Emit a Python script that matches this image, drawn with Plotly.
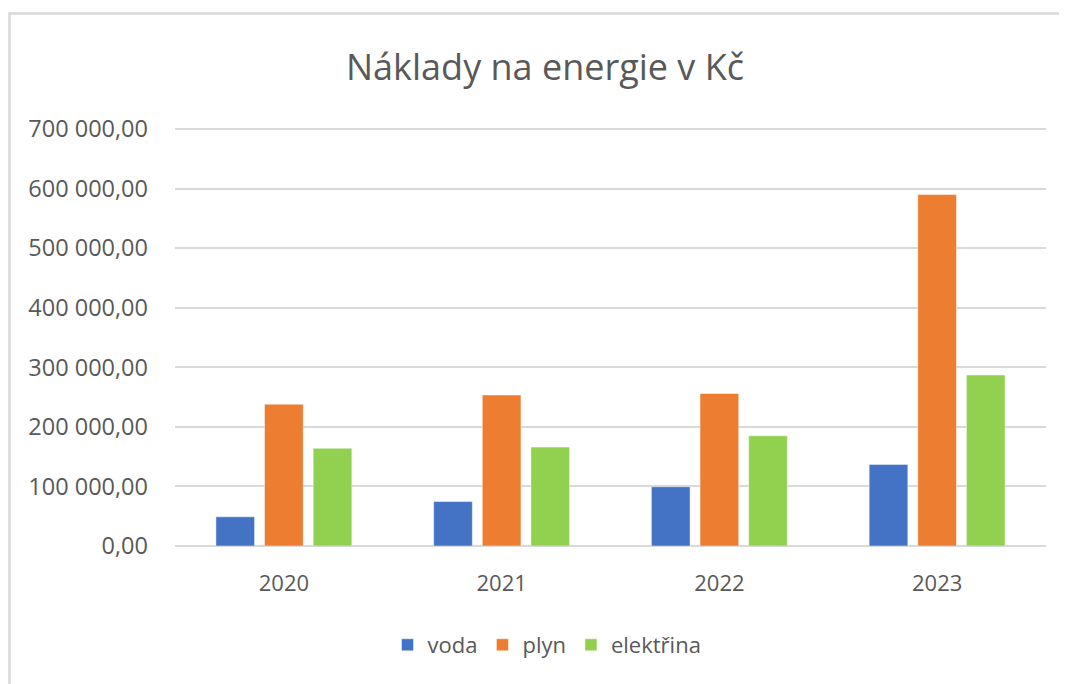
import plotly.graph_objects as go

years = ["2020", "2021", "2022", "2023"]
voda = [49000, 74600, 99500, 137000]
plyn = [238000, 253500, 256000, 590000]
elektrina = [164000, 166000, 185000, 287000]

series = [("voda", voda, "#4472C4"), ("plyn", plyn, "#ED7D31"), ("elektřina", elektrina, "#92D050")]

fig = go.Figure()
for name, vals, col in series:
    fig.add_trace(go.Bar(x=years, y=vals, name=name, marker=dict(color=col, line=dict(color="rgba(255,255,255,0.45)", width=1))))

# page body has an 8px margin; compensate
OFF = 8
EXTRA = 4  # headroom so the top gridline is drawn
W, H = 1067 - OFF, 684 - OFF
L, T = 175 - OFF, 129 - OFF - EXTRA
PW, PH = 871, 417 + EXTRA
R, B = W - L - PW, H - T - PH

def py(y):  # page pixel y -> paper
    return ((H - B) - (y - OFF)) / PH

def px(x):
    return (x - OFF - L) / PW

font_col = "#595959"
fig.update_layout(
    width=W, height=H,
    margin=dict(l=L, r=R, t=T, b=B, autoexpand=False),
    paper_bgcolor="white", plot_bgcolor="white",
    separators=", ",
    font=dict(family="Open Sans", color=font_col, size=22),
    title=dict(text="Náklady na energie v Kč", x=(545 - OFF) / W, xref="container", xanchor="center",
               y=1 - (67 - OFF) / H, yref="container", yanchor="middle",
               font=dict(size=36, color=font_col, family="Open Sans")),
    bargap=0.33, bargroupgap=0.205,
    legend=dict(orientation="h", x=px(547), xref="paper", xanchor="center",
                y=py(645), yref="paper", yanchor="middle", font=dict(size=22, color=font_col),
                traceorder="normal"),
    showlegend=True,
)
fig.update_yaxes(range=[0, 700000 * PH / 417], tickvals=[0, 100000, 200000, 300000, 400000, 500000, 600000, 700000],
                 tickformat=",.2f",
                 showgrid=True, gridcolor="#d9d9d9", gridwidth=2,
                 zeroline=True, zerolinecolor="#d9d9d9", zerolinewidth=2,
                 showline=False, ticks="", ticklabelstandoff=26,
                 tickfont=dict(size=23.5, color=font_col))
fig.update_xaxes(showline=False, ticks="", ticklabelstandoff=22,
                 tickfont=dict(size=22, color=font_col))

fig.add_shape(type="rect", xref="paper", yref="paper",
              x0=px(9.5), x1=px(1100),
              y0=py(720), y1=py(13.5),
              line=dict(color="#d9d9d9", width=2.5), fillcolor="rgba(0,0,0,0)", layer="below")

fig.write_html("out.html")
